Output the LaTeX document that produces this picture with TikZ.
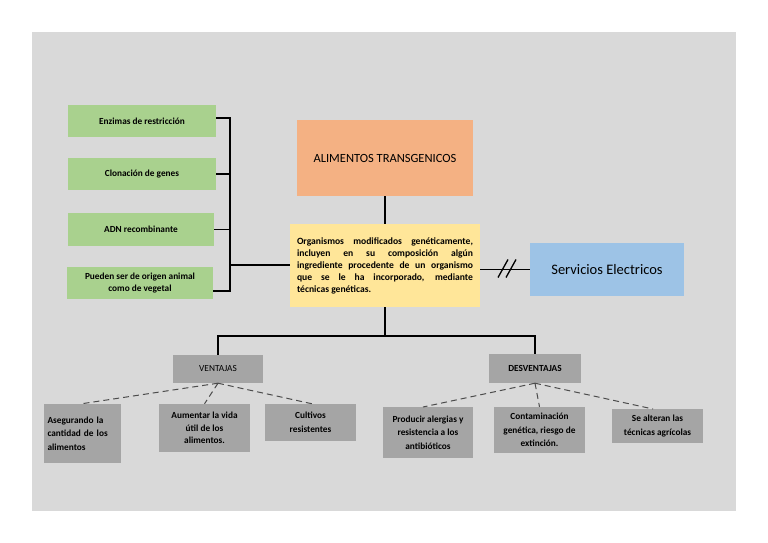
\documentclass[tikz,border=0pt]{standalone}
\usepackage{fontspec}
\setmainfont{Carlito}
\usetikzlibrary{calc}
\definecolor{bgc}{HTML}{D9D9D9}
\definecolor{grn}{HTML}{A9D18E}
\definecolor{org}{HTML}{F4B183}
\definecolor{ylw}{HTML}{FFE699}
\definecolor{blu}{HTML}{9DC3E6}
\definecolor{gry}{HTML}{A5A5A5}
\begin{document}
\begin{tikzpicture}[x=1pt,y=-1pt,
  box/.style={draw=none,inner sep=1pt,align=center},
  gbox/.style={box,fill=grn,font=\bfseries\fontsize{9.3}{12}\selectfont},
  graybox/.style={box,fill=gry,font=\bfseries\fontsize{9.3}{13.5}\selectfont},
  conn/.style={line width=1.3pt,black},
  dashln/.style={line width=1pt,black!70,dash pattern=on 6pt off 4pt}]
\useasboundingbox (0,0) rectangle (768,543);
\fill[bgc] (32,32) rectangle (736,511);
% green boxes
\node[gbox,minimum width=148pt,minimum height=32pt] (g1) at (142,121) {Enzimas de restricción};
\node[gbox,minimum width=148pt,minimum height=32pt] (g2) at (142,174) {Clonación de genes};
\node[gbox,minimum width=146pt,minimum height=33pt] (g3) at (141,229.5) {ADN recombinante};
\node[gbox,minimum width=146pt,minimum height=32pt] (g4) at (140,283) {Pueden ser de origen animal\\como de vegetal};
% central
\node[box,fill=org,minimum width=176pt,minimum height=76pt,font=\fontsize{12.5}{14}\selectfont] (ali) at (385,158) {ALIMENTOS TRANSGENICOS};
\node[box,fill=ylw,minimum width=190pt,minimum height=83pt,text width=176pt,align=justify,font=\bfseries\fontsize{9.6}{12}\selectfont] (org) at (385,265.5) {Organismos modificados genéticamente,\linebreak incluyen en su composición algún\linebreak ingrediente procedente de un organismo\linebreak que se le ha incorporado, mediante\linebreak técnicas genéticas.};
\node[box,fill=blu,minimum width=154pt,minimum height=53pt,font=\fontsize{14.5}{16}\selectfont] (ser) at (607,269.5) {Servicios Electricos};
% categories
\node[graybox,minimum width=90pt,minimum height=28pt,font=\fontsize{9.3}{10}\selectfont] (ven) at (218,369) {VENTAJAS};
\node[graybox,minimum width=92pt,minimum height=29pt,font=\bfseries\fontsize{9.3}{10}\selectfont] (des) at (535,368.5) {DESVENTAJAS};
% leaves
\node[graybox,minimum width=77pt,minimum height=59pt,text width=70pt,align=left] (a1) at (82.5,433.5) {Asegurando la\\cantidad de los\\alimentos};
\node[graybox,minimum width=91pt,minimum height=48pt,font=\bfseries\fontsize{9.3}{12.5}\selectfont] (a2) at (204.5,428) {Aumentar la vida\\útil de los\\alimentos.};
\node[graybox,minimum width=91pt,minimum height=37pt] (a3) at (310.5,422.5) {Cultivos\\resistentes};
\node[graybox,minimum width=90pt,minimum height=51pt] (d1) at (428,432.5) {Producir alergias y\\resistencia a los\\antibióticos};
\node[graybox,minimum width=91pt,minimum height=46pt] (d2) at (539.5,430) {Contaminación\\genética, riesgo de\\extinción.};
\node[graybox,minimum width=91pt,minimum height=34pt] (d3) at (657.5,426) {Se alteran las\\técnicas agrícolas};
% bracket
\coordinate (bt) at (230,118);
\coordinate (bb) at (230,291);
\coordinate (bm) at (230,265);
\draw[conn] (g1.east |- bt) -- (bt) -- (bb) -- (g4.east |- bb);
\draw[conn] (g2.east) -- (g2.east -| bt);
\draw[conn] (g3.east) -- (g3.east -| bt);
\draw[conn] (bm) -- (org.west |- bm);
% center links
\draw[conn] (ali.south) -- (org.north);
\coordinate (hb) at (385,336);
\draw[conn] (org.south) -- (hb);
\draw[conn] (ven.north) |- (hb) -| (des.north);
% to servicios
\draw[conn] (org.east |- ser.west) -- (ser.west);
\coordinate (s1) at (503,268.5);
\coordinate (s2) at (511,268.5);
\draw[line width=1.3pt] ($(s1)+(-5,9)$) -- ($(s1)+(5,-9)$);
\draw[line width=1.3pt] ($(s2)+(-5,9)$) -- ($(s2)+(5,-9)$);
% dashed
\draw[dashln] (ven.south) -- (80,404);
\draw[dashln] (ven.south) -- (a2.north);
\draw[dashln] (ven.south) -- (313,404);
\draw[dashln] (des.south) -- (423,407);
\draw[dashln] (des.south) -- (d2.north);
\draw[dashln] (des.south) -- (653,409);
\end{tikzpicture}
\end{document}
